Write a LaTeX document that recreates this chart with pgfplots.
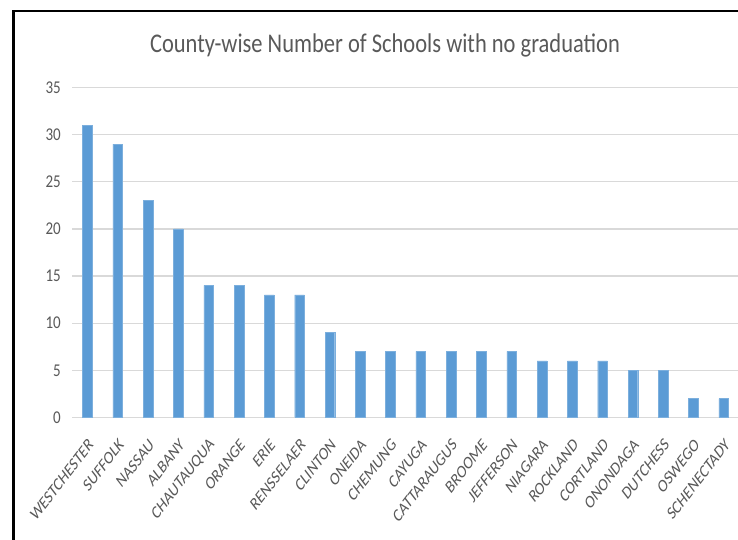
\documentclass[border=0pt]{standalone}
\usepackage{pgfplots}
\pgfplotsset{compat=1.18}
\usepackage{fontspec}
\setmainfont{Carlito}
\definecolor{barblue}{HTML}{5B9BD5}
\definecolor{txt}{HTML}{595959}
\definecolor{gridc}{HTML}{D9D9D9}
\begin{document}
\begin{tikzpicture}
\path[use as bounding box] (0pt,0pt) rectangle (738pt,540pt);
\begin{axis}[
  at={(72.3pt,122.5pt)}, anchor=south west,
  scale only axis, width=666.6pt, height=330pt,
  xmin=-0.5, xmax=21.5, ymin=0, ymax=35,
  ytick={0,5,...,35},
  xtick={0,...,21},
  xticklabels={WESTCHESTER,SUFFOLK,NASSAU,ALBANY,CHAUTAUQUA,ORANGE,ERIE,RENSSELAER,CLINTON,ONEIDA,CHEMUNG,CAYUGA,CATTARAUGUS,BROOME,JEFFERSON,NIAGARA,ROCKLAND,CORTLAND,ONONDAGA,DUTCHESS,OSWEGO,SCHENECTADY},
  axis line style={draw=none},
  major tick length=0pt,
  ymajorgrids,
  major grid style={gridc, line width=1.2pt},
  /pgf/number format/assume math mode=true,
  yticklabel style={font=\fontsize{15}{15}\selectfont, text=txt, xshift=-8pt, yscale=1.2},
  xticklabel style={font=\fontsize{14}{14}\selectfont, text=txt, xshift=6pt, yshift=-21pt, yscale=1.3, rotate=45, anchor=east},
  clip=false,
]
\addplot[ybar, bar width=9.7pt, fill=barblue, draw=barblue!80!white, line width=0.4pt] coordinates {
(0,31) (1,29) (2,23) (3,20) (4,14) (5,14) (6,13) (7,13) (8,9) (9,7) (10,7)
(11,7) (12,7) (13,7) (14,7) (15,6) (16,6) (17,6) (18,5) (19,5) (20,2) (21,2)
};
\end{axis}
\node[text=txt, font=\fontsize{22.5}{22.5}\selectfont, yscale=1.2] at (385pt,495pt) {County-wise Number of Schools with no graduation};
\fill[black] (12pt,0pt) rectangle (14.5pt,530pt);
\fill[black] (12pt,527.5pt) rectangle (737.5pt,530pt);
\end{tikzpicture}
\end{document}
